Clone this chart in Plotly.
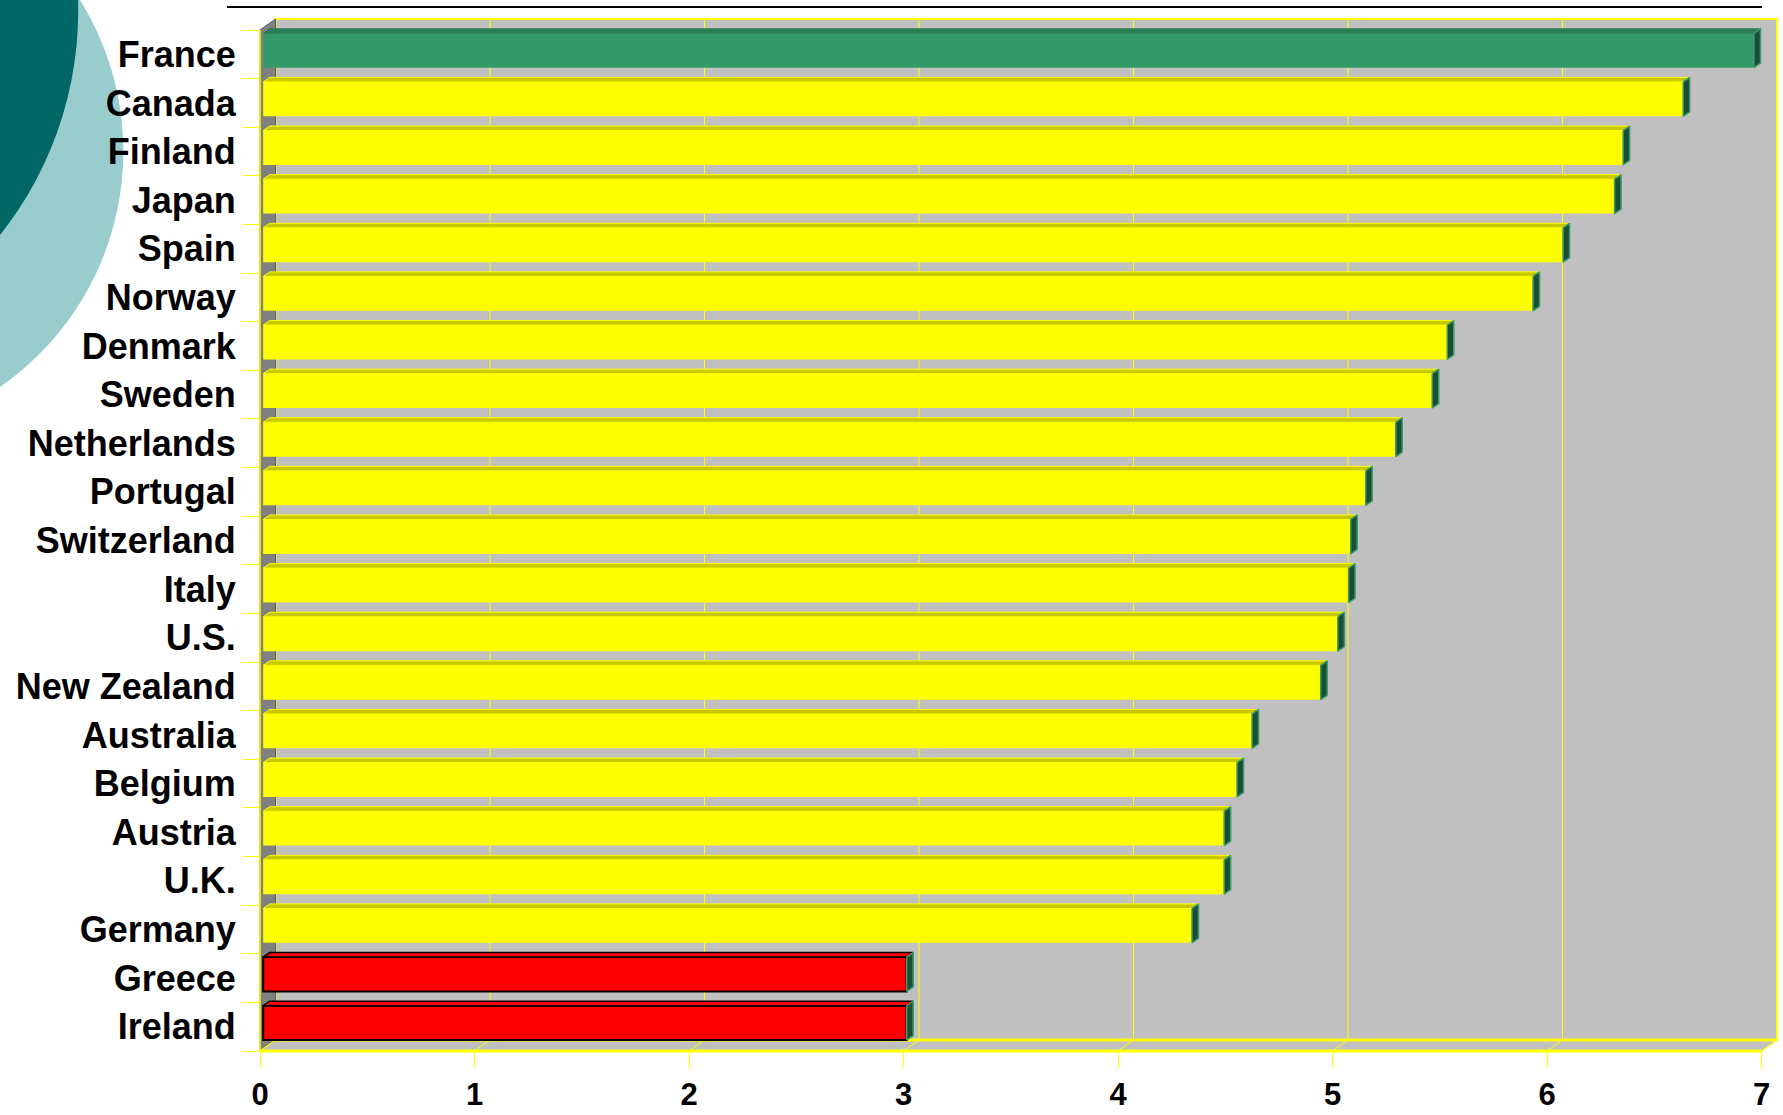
import plotly.graph_objects as go

# ---- data -------------------------------------------------------------
countries = [
    "France", "Canada", "Finland", "Japan", "Spain", "Norway", "Denmark",
    "Sweden", "Netherlands", "Portugal", "Switzerland", "Italy", "U.S.",
    "New Zealand", "Australia", "Belgium", "Austria", "U.K.", "Germany",
    "Greece", "Ireland",
]
scores = [
    6.95, 6.62, 6.34, 6.30, 6.06, 5.92, 5.52,
    5.45, 5.28, 5.14, 5.07, 5.06, 5.01,
    4.93, 4.61, 4.54, 4.48, 4.48, 4.33,
    3.00, 3.00,
]
leader_countries = ["France"]
trailing_countries = ["Greece", "Ireland"]
x_ticks = [0, 1, 2, 3, 4, 5, 6, 7]

# ---- page geometry (pixels) --------------------------------------------
W, H = 1783, 1115
PL, PR, PT, PB = 260, 1777, 19, 1051       # edges of the plotting paper
DEPTH_X, DEPTH_Y = 15.5, 11                 # 3-D depth of the wall box
X_UNIT = 214.5                              # pixels per unit on the value axis
n = len(countries)
FRONT_TOP = PT + DEPTH_Y
Y_UNIT = (PB - FRONT_TOP) / n
FRONT_RIGHT = PL + x_ticks[-1] * X_UNIT


def px(xp):
    return (xp - PL) / (PR - PL)


def py(yp):
    return (PB - yp) / (PB - PT)


x_range = [0, (PR - PL) / X_UNIT]
y_range = [n - 0.5, -0.5 - DEPTH_Y / Y_UNIT]

# bar box geometry in data units
BAR_SHIFT = 3.2 / X_UNIT
BAR_OFFSET = -0.5 + 3.3 / Y_UNIT
BAR_WIDTH = 34.4 / Y_UNIT
FACE_DX = 6.5 / X_UNIT
FACE_DY = 4.5 / Y_UNIT

# ---- colours ----------------------------------------------------------
YELLOW = "#FFFF00"
YELLOW_TOP = "#C8C800"
GREEN = "#339966"
GREEN_TOP = "#2A7D55"
RED = "#FF0000"
SIDE = "#1C4E36"
SIDE_EDGE = "#3A9A6A"
WALL = "#C0C0C0"
SIDE_WALL = "#808080"
TEAL_DARK = "#006666"
TEAL_LIGHT = "#99CCCC"


def style_of(name):
    if name in leader_countries:
        return "lead"
    if name in trailing_countries:
        return "trail"
    return "mid"


styles = [style_of(c) for c in countries]
front_colors = [{"lead": GREEN, "trail": RED, "mid": YELLOW}[s] for s in styles]
front_line_w = [2 if s == "trail" else 0 for s in styles]

positions = list(range(n))

fig = go.Figure()

# front faces of the bars
fig.add_trace(go.Bar(
    orientation="h",
    y=positions,
    x=scores,
    base=BAR_SHIFT,
    width=BAR_WIDTH,
    offset=BAR_OFFSET,
    marker=dict(color=front_colors,
                line=dict(color="#000000", width=front_line_w)),
    hoverinfo="skip",
))


def top_face(i, v):
    y_top = i + BAR_OFFSET
    xs, xe = BAR_SHIFT, BAR_SHIFT + v
    return ([xs, xe, xe + FACE_DX, xs + FACE_DX, xs, None],
            [y_top, y_top, y_top - FACE_DY, y_top - FACE_DY, y_top, None])


def side_face(i, v):
    y_top = i + BAR_OFFSET
    y_bot = y_top + BAR_WIDTH
    xe = BAR_SHIFT + v
    return ([xe, xe, xe + FACE_DX, xe + FACE_DX, xe, None],
            [y_top, y_bot, y_bot - FACE_DY, y_top - FACE_DY, y_top, None])


def poly_trace(kind, wanted, fill, edge, edge_w):
    xs, ys = [], []
    for i, (v, s) in enumerate(zip(scores, styles)):
        if wanted is not None and s != wanted:
            continue
        fx, fy = kind(i, v)
        xs += fx
        ys += fy
    return go.Scatter(x=xs, y=ys, mode="lines", fill="toself",
                      fillcolor=fill, line=dict(color=edge, width=edge_w),
                      hoverinfo="skip")


fig.add_trace(poly_trace(top_face, "mid", YELLOW_TOP, YELLOW, 1))
fig.add_trace(poly_trace(top_face, "lead", GREEN_TOP, GREEN_TOP, 1))
fig.add_trace(poly_trace(top_face, "trail", RED, "#000000", 1.5))
fig.add_trace(poly_trace(side_face, None, SIDE, SIDE_EDGE, 1.5))

# ---- walls, floor and decoration ---------------------------------------
shapes = []

# background circles
shapes.append(dict(type="circle", xref="paper", yref="paper", layer="below",
                   x0=px(-449.7), x1=px(123.3), y0=py(-135.0), y1=py(438.0),
                   fillcolor=TEAL_LIGHT, line=dict(width=0)))
shapes.append(dict(type="circle", xref="paper", yref="paper", layer="below",
                   x0=px(-641.8), x1=px(78.2), y0=py(-349.0), y1=py(371.0),
                   fillcolor=TEAL_DARK, line=dict(width=0)))

# rule across the top
shapes.append(dict(type="line", xref="paper", yref="paper", layer="below",
                   x0=px(227), x1=px(1762), y0=py(7), y1=py(7),
                   line=dict(color="#000000", width=2)))

back_l, back_r = PL + DEPTH_X, FRONT_RIGHT + DEPTH_X
back_t, back_b = PT, PB - DEPTH_Y

# back wall
shapes.append(dict(type="rect", xref="paper", yref="paper", layer="below",
                   x0=px(back_l), x1=px(back_r), y0=py(back_b), y1=py(back_t),
                   fillcolor=WALL, line=dict(color=YELLOW, width=2)))
# gridlines on the back wall
for k in x_ticks[1:-1]:
    gx = back_l + k * X_UNIT
    shapes.append(dict(type="line", xref="paper", yref="paper", layer="below",
                       x0=px(gx), x1=px(gx), y0=py(back_b), y1=py(back_t),
                       line=dict(color=YELLOW, width=1)))

# side wall
side_path = "M {} {} L {} {} L {} {} L {} {} Z".format(
    px(PL), py(PB), px(PL), py(FRONT_TOP),
    px(back_l), py(back_t), px(back_l), py(back_b))
shapes.append(dict(type="path", xref="paper", yref="paper", layer="below",
                   path=side_path, fillcolor=SIDE_WALL,
                   line=dict(color="#5A5A5A", width=1)))

# floor
floor_path = "M {} {} L {} {} L {} {} L {} {} Z".format(
    px(PL), py(PB), px(FRONT_RIGHT), py(PB),
    px(back_r), py(back_b), px(back_l), py(back_b))
shapes.append(dict(type="path", xref="paper", yref="paper", layer="below",
                   path=floor_path, fillcolor=WALL,
                   line=dict(color=YELLOW, width=1)))
for k in x_ticks:
    fx = PL + k * X_UNIT
    shapes.append(dict(type="line", xref="paper", yref="paper", layer="below",
                       x0=px(fx), x1=px(fx + DEPTH_X), y0=py(PB), y1=py(back_b),
                       line=dict(color=YELLOW, width=1)))

# front edges of the box
shapes.append(dict(type="line", xref="paper", yref="paper", layer="below",
                   x0=px(PL), x1=px(FRONT_RIGHT), y0=py(PB), y1=py(PB),
                   line=dict(color=YELLOW, width=3)))
shapes.append(dict(type="line", xref="paper", yref="paper", layer="below",
                   x0=px(PL), x1=px(PL), y0=py(PB), y1=py(FRONT_TOP),
                   line=dict(color=YELLOW, width=1.5)))
shapes.append(dict(type="line", xref="paper", yref="paper", layer="below",
                   x0=px(back_l), x1=px(back_r), y0=py(back_b), y1=py(back_b),
                   line=dict(color=YELLOW, width=3)))

label_font = dict(family="Liberation Sans, Arial, sans-serif", color="#000000",
                  weight="bold")

fig.update_layout(
    width=W, height=H,
    margin=dict(l=PL, r=W - PR, t=PT, b=H - PB, pad=0, autoexpand=False),
    paper_bgcolor="#FFFFFF",
    plot_bgcolor="rgba(0,0,0,0)",
    showlegend=False,
    shapes=shapes,
    xaxis=dict(
        range=x_range, tickvals=x_ticks, ticktext=[str(t) for t in x_ticks],
        ticks="outside", ticklen=16, tickwidth=1, tickcolor=YELLOW,
        showline=False, showgrid=False, zeroline=False, automargin=False,
        tickfont=dict(size=31, **label_font), ticklabelstandoff=0,
        fixedrange=True,
    ),
    yaxis=dict(
        range=y_range, tickvals=positions, ticktext=countries,
        ticks="outside", ticklen=16, tickcolor="rgba(0,0,0,0)",
        minor=dict(tickvals=[k - 0.5 for k in range(n + 1)], ticks="outside",
                   ticklen=16, tickwidth=1, tickcolor=YELLOW, showgrid=False),
        showline=False, showgrid=False, zeroline=False, automargin=False,
        tickfont=dict(size=36, **label_font), ticklabelstandoff=0,
        fixedrange=True,
    ),
)

fig.write_html("out.html")
